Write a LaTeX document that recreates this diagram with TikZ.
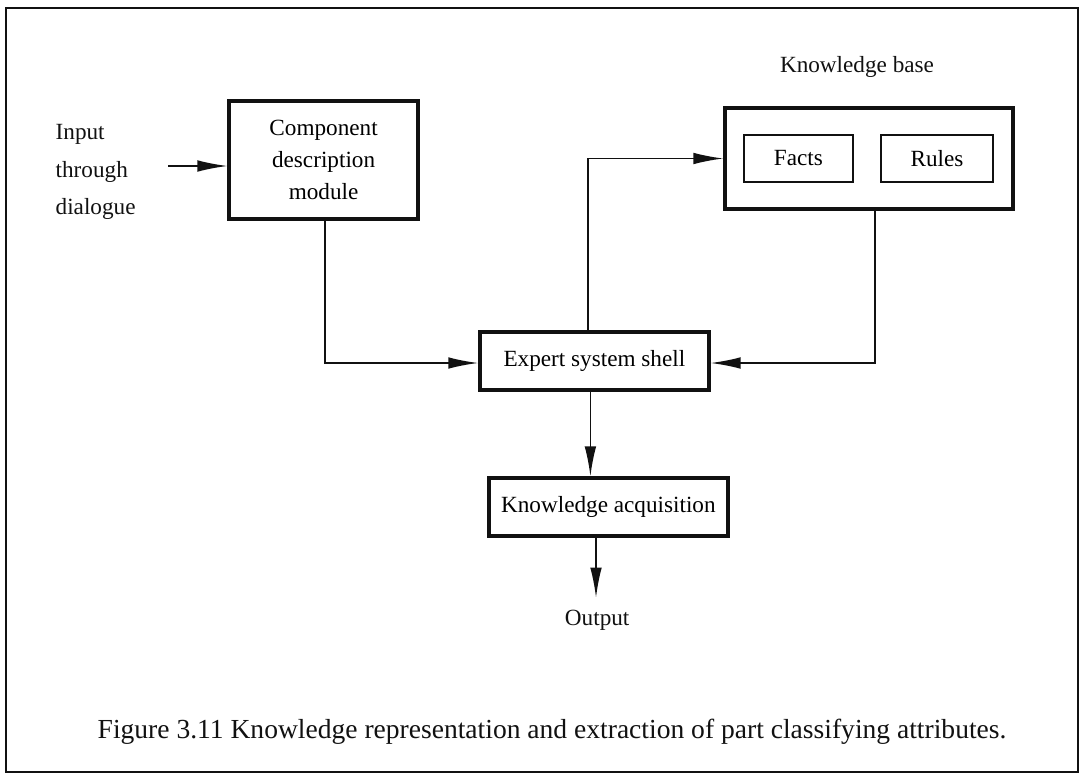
\documentclass[tikz,border=0pt]{standalone}
\usepackage{fontspec}
\setmainfont{Liberation Serif}
\usepackage{xcolor}
\usetikzlibrary{arrows.meta, positioning, calc}
\definecolor{ink}{HTML}{111111}
\tikzset{
  box/.style    ={draw=ink, line width=2.3pt, fill=white, align=center,
                  font=\fontsize{16.5}{22}\selectfont, inner sep=2pt},
  subbox/.style ={box, line width=2pt},
  flow/.style   ={-{Latex[length=7.5mm,width=2.9mm]}, line width=1.2pt, draw=ink},
  label/.style  ={font=\fontsize{16.5}{22}\selectfont, text=ink, inner sep=1pt}
}
\begin{document}
\begin{tikzpicture}
  \useasboundingbox (0,0) rectangle (27,-19.425);
  \draw[ink, line width=1.8pt] (0.15,-0.2) rectangle (26.95,-19.3);

  % left input side
  \node[label, anchor=west, align=left, font=\fontsize{16.5}{26.5}\selectfont]
       (input) at (1.35,-4.3) {Input\\through\\dialogue};
  \node[box, minimum width=4.725cm, minimum height=2.95cm,
        font=\fontsize{16.5}{22.5}\selectfont] (comp) at (8.09,-4.0)
       {Component\\description\\module};

  % knowledge base
  \node[box, minimum width=7.2cm, minimum height=2.525cm] (kb) at (21.725,-3.9625) {};
  \node[subbox, minimum width=2.725cm, minimum height=1.175cm] (facts) at (19.96,-3.9625) {Facts};
  \node[subbox, minimum width=2.8cm, minimum height=1.175cm] (rules) at (23.425,-3.9625) {Rules};
  \node[label] (kblabel) at (21.425,-1.675) {Knowledge base};

  % middle column
  \node[box, minimum width=5.725cm, minimum height=1.45cm] (esh) at (14.86,-9.025) {Expert system shell};
  \node[box, minimum width=5.975cm, minimum height=1.45cm] (ka) at (15.21,-12.675) {Knowledge acquisition};
  \node[label] (out) at (14.93,-15.5) {Output};

  \node[label, anchor=west, font=\fontsize{19.6}{24}\selectfont] (caption) at (2.4,-18.3)
       {Figure 3.11 Knowledge representation and extraction of part classifying attributes.};

  \coordinate (inp) at (4.2,-4.15);
  \draw[flow] (inp) -- (inp -| comp.west);
  \draw[flow] ([xshift=0.04cm]comp.south) |- ([yshift=-0.05cm]esh.west);
  \draw[flow] ([xshift=0.15cm]kb.south) |- ([yshift=-0.05cm]esh.east);
  \draw[flow] ([xshift=-0.16cm]esh.north) |- (kb.west);
  \draw[flow] ([xshift=-0.1cm]esh.south) -- ([xshift=-0.1cm]esh.south |- ka.north);
  \draw[flow] ([xshift=-0.31cm]ka.south) -- ([xshift=-0.31cm,yshift=-1.5cm]ka.south);
\end{tikzpicture}
\end{document}
